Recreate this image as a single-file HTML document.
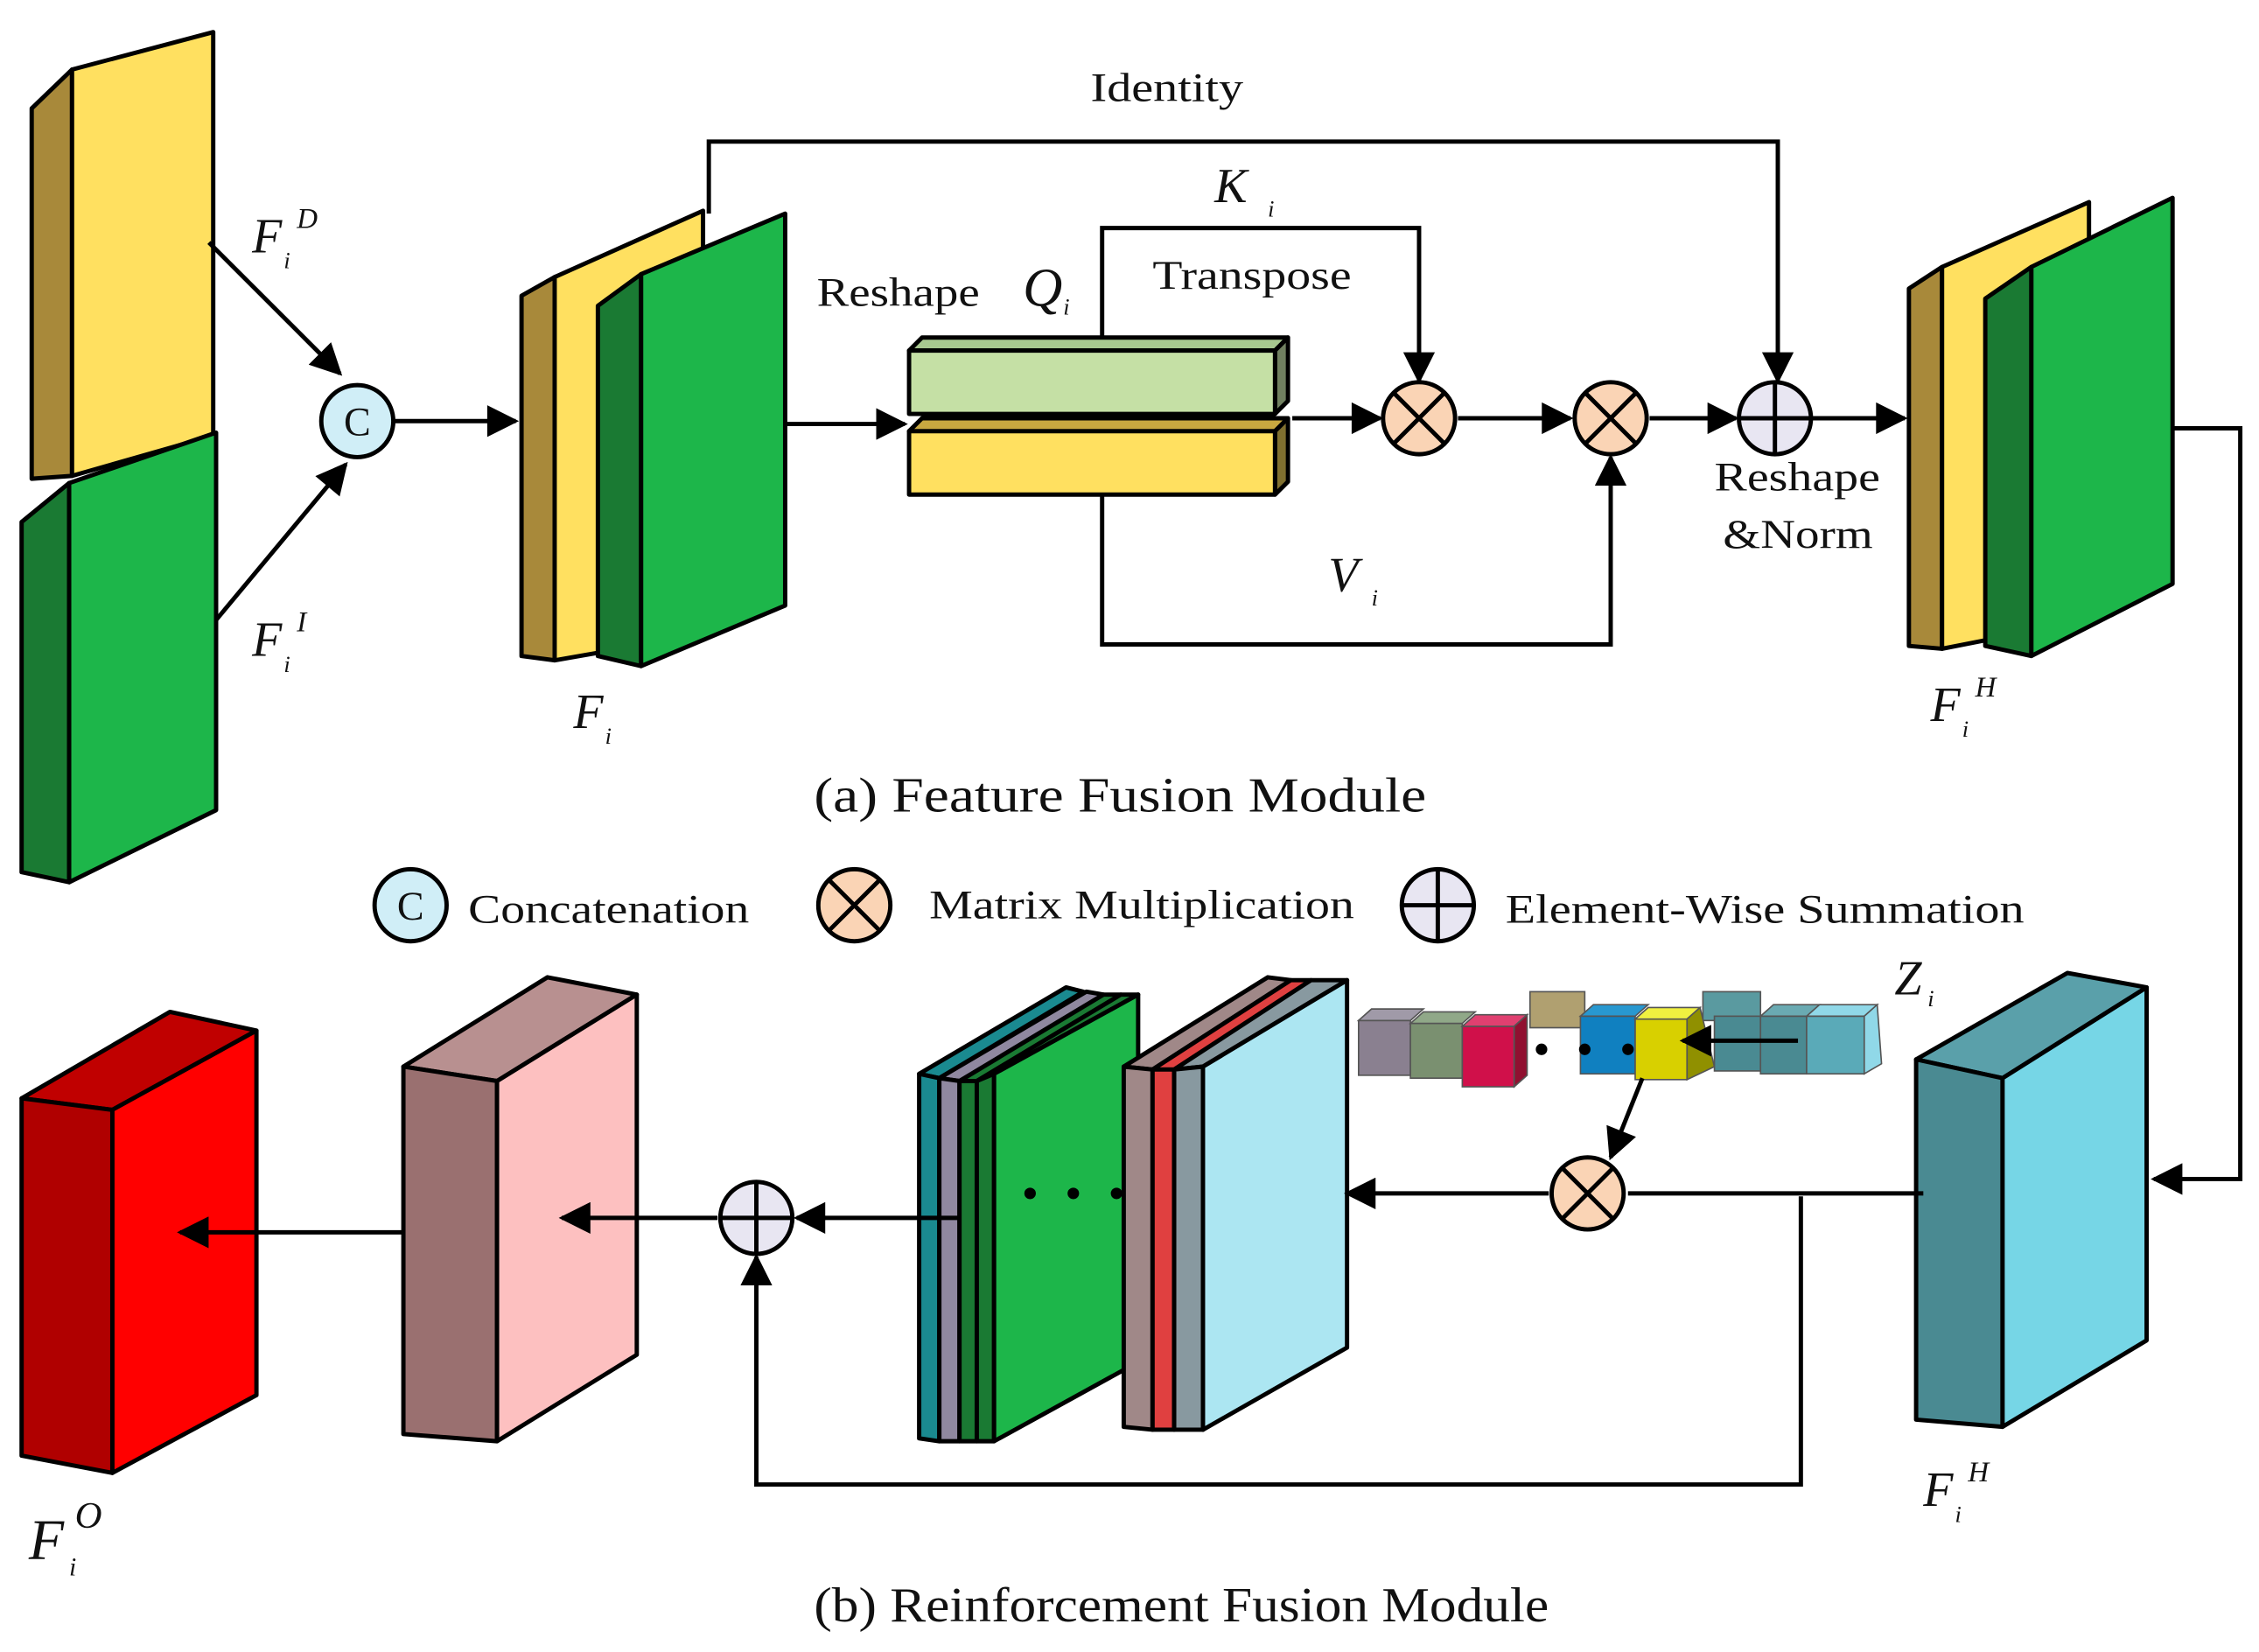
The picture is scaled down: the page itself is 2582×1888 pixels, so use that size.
<!DOCTYPE html>
<html><head><meta charset="utf-8"><style>
html,body{margin:0;padding:0;background:#fff;}
svg{display:block;}
text{font-family:"Liberation Serif",serif;fill:#111;}
.it{font-style:italic;}
</style></head><body>
<svg width="2582" height="1888" viewBox="0 0 1568 1146" xmlns="http://www.w3.org/2000/svg">
<defs>
<marker id="b" viewBox="0 0 10 10" refX="9" refY="5" markerWidth="26" markerHeight="22" orient="auto" markerUnits="userSpaceOnUse">
<path d="M0,0 L10,5 L0,10 z" fill="#000"/></marker>
</defs>
<g stroke="#000" stroke-width="3" stroke-linejoin="round">
<polygon points="22,75 50,48 50,330 22,332" fill="#A8893A"/>
<polygon points="50,48 148,22 148,302 50,330" fill="#FFE060"/>
<polygon points="15,362 48,335 48,612 15,605" fill="#1A7A33"/>
<polygon points="48,335 150,300 150,562 48,612" fill="#1DB64A"/>
<polygon points="362,205 385,192 385,458 362,455" fill="#A8893A"/>
<polygon points="385,192 488,146 488,440 385,458" fill="#FFE060"/>
<polygon points="415,212 445,190 445,462 415,455" fill="#1A7A33"/>
<polygon points="445,190 545,148 545,420 445,462" fill="#1DB64A"/>
<polygon points="1325,200 1348,185 1348,450 1325,448" fill="#A8893A"/>
<polygon points="1348,185 1450,140 1450,430 1348,450" fill="#FFE060"/>
<polygon points="1378,207 1410,185 1410,455 1378,448" fill="#1A7A33"/>
<polygon points="1410,185 1508,137 1508,405 1410,455" fill="#1DB64A"/>
<polygon points="631,243 640,234 894,234 885,243" fill="#A8C890"/>
<polygon points="885,243 894,234 894,278 885,287" fill="#708060"/>
<rect x="631" y="243" width="254" height="44" fill="#C5E0A5"/>
<polygon points="631,299 640,290 894,290 885,299" fill="#C8A840"/>
<polygon points="885,299 894,290 894,334 885,343" fill="#807030"/>
<rect x="631" y="299" width="254" height="44" fill="#FFE060"/>
<polygon points="15,762 118,702 178,715 78,770" fill="#C00000"/>
<polygon points="15,762 78,770 78,1022 15,1010" fill="#B00000"/>
<polygon points="78,770 178,715 178,968 78,1022" fill="#FF0000"/>
<polygon points="280,740 380,678 442,690 345,750" fill="#B89090"/>
<polygon points="280,740 345,750 345,1000 280,995" fill="#9A7070"/>
<polygon points="345,750 442,690 442,940 345,1000" fill="#FDC0C0"/>
<polygon points="638,745 740,685 752,688 652,748" fill="#1A8A90"/>
<polygon points="638,745 652,748 652,1000 638,998" fill="#1A8A90"/>
<polygon points="652,748 754,688 766,690 666,750" fill="#9088A0"/>
<polygon points="652,748 666,750 666,1000 652,1000" fill="#9088A0"/>
<polygon points="666,750 766,690 778,690 678,750" fill="#1A7A33"/>
<polygon points="666,750 678,750 678,1000 666,1000" fill="#1A7A33"/>
<polygon points="678,750 778,690 790,690 690,745" fill="#1A7A33"/>
<polygon points="678,750 690,745 690,1000 678,1000" fill="#1A7A33"/>
<polygon points="690,745 790,690 790,945 690,1000" fill="#1DB64A"/>
<polygon points="780,740 880,678 896,680 800,742" fill="#A08888"/>
<polygon points="780,740 800,742 800,992 780,990" fill="#A08888"/>
<polygon points="800,742 896,680 910,680 815,742" fill="#E04040"/>
<polygon points="800,742 815,742 815,992 800,992" fill="#E04040"/>
<polygon points="815,742 910,680 935,680 835,740" fill="#8899A0"/>
<polygon points="815,742 835,740 835,992 815,992" fill="#8899A0"/>
<polygon points="835,740 935,680 935,935 835,992" fill="#ACE6F2"/>
<polygon points="1330,735 1435,675 1490,685 1390,748" fill="#5AA0AA"/>
<polygon points="1330,735 1390,748 1390,990 1330,985" fill="#4A8A92"/>
<polygon points="1390,748 1490,685 1490,930 1390,990" fill="#76D6E6"/>
</g>
<g stroke="#555" stroke-width="1">
<rect x="1062" y="688" width="38" height="25" fill="#B0A070"/>
<rect x="1182" y="688" width="40" height="20" fill="#5A9AA0"/>
<rect x="943" y="708" width="36" height="38" fill="#8A8090"/>
<polygon points="943,708 952,700 988,700 979,708" fill="#A09AA8"/>
<rect x="979" y="710" width="36" height="38" fill="#7A9070"/>
<polygon points="979,710 988,702 1024,702 1015,710" fill="#90A888"/>
<rect x="1015" y="712" width="36" height="42" fill="#D0104A"/>
<polygon points="1015,712 1024,704 1060,704 1051,712" fill="#E04070"/>
<polygon points="1051,712 1060,704 1060,746 1051,754" fill="#901030"/>
<rect x="1097" y="705" width="38" height="40" fill="#1080C0"/>
<polygon points="1097,705 1106,697 1144,697 1135,705" fill="#2898D0"/>
<rect x="1135" y="707" width="36" height="42" fill="#D8D000"/>
<polygon points="1135,707 1144,699 1180,699 1171,707" fill="#F0F040"/>
<polygon points="1171,707 1180,699 1190,740 1171,749" fill="#909000"/>
<rect x="1190" y="705" width="32" height="38" fill="#4A8A92"/>
<rect x="1222" y="705" width="32" height="40" fill="#4A8A92"/>
<polygon points="1222,705 1231,697 1263,697 1254,705" fill="#6AAAB2"/>
<rect x="1254" y="705" width="40" height="40" fill="#5AAAB8"/>
<polygon points="1254,705 1263,697 1303,697 1294,705" fill="#90D8E8"/>
<polygon points="1294,705 1303,697 1306,738 1294,745" fill="#90D8E8"/>
</g>
<g fill="#000"><circle cx="1070" cy="728" r="4"/><circle cx="1100" cy="728" r="4"/><circle cx="1130" cy="728" r="4"/>
<circle cx="715" cy="828" r="4"/><circle cx="745" cy="828" r="4"/><circle cx="775" cy="828" r="4"/></g>
<g stroke="#000" stroke-width="3" fill="none" marker-end="url(#b)">
<line x1="145" y1="168" x2="236" y2="259"/>
<line x1="150" y1="430" x2="240" y2="322"/>
<line x1="273" y1="292" x2="358" y2="292"/>
<line x1="545" y1="294" x2="628" y2="294"/>
<line x1="897" y1="290" x2="958" y2="290"/>
<line x1="1012" y1="290" x2="1090" y2="290"/>
<line x1="1145" y1="290" x2="1205" y2="290"/>
<line x1="1258" y1="290" x2="1322" y2="290"/>
<polyline points="492,148 492,98 1234,98 1234,264"/>
<polyline points="765,234 765,158 985,158 985,264"/>
<polyline points="765,343 765,447 1118,447 1118,317"/>
<polyline points="1508,297 1555,297 1555,818 1495,818"/>
<line x1="1075" y1="828" x2="935" y2="828"/>
<polyline points="1250,830 1250,1030 525,1030 525,872"/>
<line x1="665" y1="845" x2="553" y2="845"/>
<line x1="498" y1="845" x2="390" y2="845"/>
<line x1="280" y1="855" x2="125" y2="855"/>
<line x1="1248" y1="722" x2="1168" y2="722"/>
<line x1="1140" y1="748" x2="1118" y2="803"/>
</g>
<line x1="1335" y1="828" x2="1130" y2="828" stroke="#000" stroke-width="3"/>
<g stroke="#000" stroke-width="3">
<circle cx="248" cy="292" r="25" fill="#D0EEF7"/>
<circle cx="285" cy="628" r="25" fill="#D0EEF7"/>
<g fill="#FAD4B5"><circle cx="985" cy="290" r="25"/><circle cx="1118" cy="290" r="25"/><circle cx="1102" cy="828" r="25"/><circle cx="593" cy="628" r="25"/></g>
<g fill="#E8E6F2"><circle cx="1232" cy="290" r="25"/><circle cx="525" cy="845" r="25"/><circle cx="998" cy="628" r="25"/></g>
<path d="M968,273 L1002,307 M1002,273 L968,307 M1101,273 L1135,307 M1135,273 L1101,307 M1085,811 L1119,845 M1119,811 L1085,845 M576,611 L610,645 M610,611 L576,645"/>
<path d="M1232,265 V315 M1207,290 H1257 M525,820 V870 M500,845 H550 M998,603 V653 M973,628 H1023"/>
</g>
<text x="248" y="302" font-size="28" text-anchor="middle">C</text>
<text x="285" y="638" font-size="28" text-anchor="middle">C</text>
<g font-size="30">
<text x="757" y="70" font-size="28" textLength="106" lengthAdjust="spacingAndGlyphs">Identity</text>
<text x="567" y="212" font-size="28" textLength="113" lengthAdjust="spacingAndGlyphs">Reshape</text>
<text x="800" y="200" font-size="28" textLength="138" lengthAdjust="spacingAndGlyphs">Transpose</text>
<text x="1190" y="340" font-size="28" textLength="115" lengthAdjust="spacingAndGlyphs">Reshape</text>
<text x="1196" y="380" font-size="28" textLength="104" lengthAdjust="spacingAndGlyphs">&amp;Norm</text>
<text x="565" y="563" font-size="34" textLength="425" lengthAdjust="spacingAndGlyphs">(a) Feature Fusion Module</text>
<text x="565" y="1125" font-size="34" textLength="510" lengthAdjust="spacingAndGlyphs">(b) Reinforcement Fusion Module</text>
<text x="325" y="640" font-size="28" textLength="195" lengthAdjust="spacingAndGlyphs">Concatenation</text>
<text x="645" y="637" font-size="28" textLength="295" lengthAdjust="spacingAndGlyphs">Matrix Multiplication</text>
<text x="1045" y="640" font-size="28" textLength="360" lengthAdjust="spacingAndGlyphs">Element-Wise Summation</text>
</g>
<g>
<text x="175" y="175" font-size="34" class="it">F</text><text x="197" y="186" font-size="16" class="it">i</text><text x="206" y="158" font-size="20" class="it">D</text>
<text x="175" y="455" font-size="34" class="it">F</text><text x="197" y="466" font-size="16" class="it">i</text><text x="206" y="438" font-size="20" class="it">I</text>
<text x="398" y="505" font-size="34" class="it">F</text><text x="420" y="516" font-size="16" class="it">i</text>
<text x="1340" y="500" font-size="34" class="it">F</text><text x="1362" y="511" font-size="16" class="it">i</text><text x="1371" y="483" font-size="20" class="it">H</text>
<text x="1335" y="1045" font-size="34" class="it">F</text><text x="1357" y="1056" font-size="16" class="it">i</text><text x="1366" y="1028" font-size="20" class="it">H</text>
<text x="20" y="1082" font-size="40" class="it">F</text><text x="48" y="1093" font-size="18" class="it">i</text><text x="52" y="1060" font-size="26" class="it">O</text>
<text x="710" y="212" font-size="38" class="it">Q</text><text x="738" y="218" font-size="16" class="it">i</text>
<text x="843" y="140" font-size="34" class="it">K</text><text x="880" y="150" font-size="16" class="it">i</text>
<text x="922" y="410" font-size="34" class="it">V</text><text x="952" y="420" font-size="16" class="it">i</text>
<text x="1315" y="690" font-size="34" class="it">Z</text><text x="1338" y="698" font-size="16" class="it">i</text>
</g>
</svg>
</body></html>
